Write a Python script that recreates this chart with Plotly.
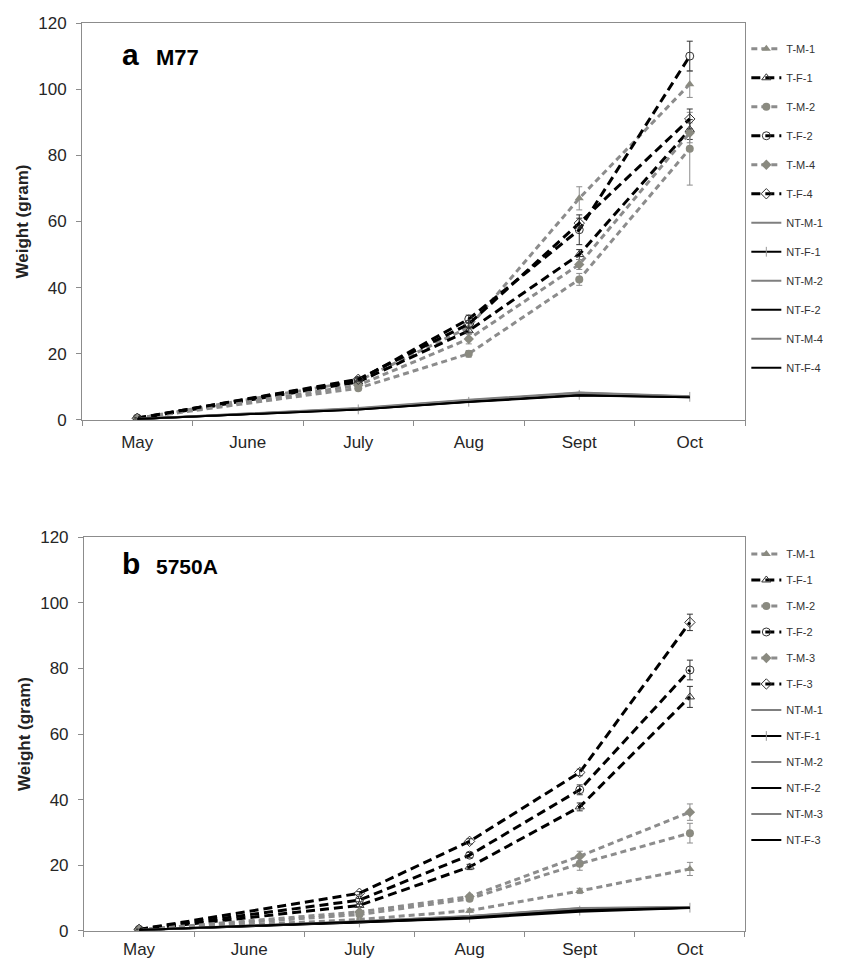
import plotly.graph_objects as go
from plotly.subplots import make_subplots

months = ["May", "June", "July", "Aug", "Sept", "Oct"]
sample_months = ["May", "July", "Aug", "Sept", "Oct"]

# Panel a: M77
a_names = ["T-M-1", "T-F-1", "T-M-2", "T-F-2", "T-M-4", "T-F-4",
           "NT-M-1", "NT-F-1", "NT-M-2", "NT-F-2", "NT-M-4", "NT-F-4"]
a_values = {
    "T-M-1": [0.5, 11.8, 28.0, 67.0, 101.5],
    "T-F-1": [0.4, 11.5, 27.0, 50.0, 87.8],
    "T-M-2": [0.5, 9.6, 20.0, 42.5, 82.0],
    "T-F-2": [0.6, 12.0, 30.5, 57.5, 110.0],
    "T-M-4": [0.5, 10.5, 24.5, 47.0, 86.8],
    "T-F-4": [0.5, 12.3, 29.0, 59.5, 91.0],
    "NT-M-1": [0.3, 3.4, 5.8, 8.2, 7.0],
    "NT-F-1": [0.3, 3.2, 5.5, 7.6, 7.0],
    "NT-M-2": [0.3, 3.5, 6.0, 8.0, 7.1],
    "NT-F-2": [0.3, 3.3, 5.6, 7.5, 6.9],
    "NT-M-4": [0.3, 3.6, 6.1, 8.3, 7.2],
    "NT-F-4": [0.3, 3.2, 5.4, 7.4, 6.9],
}
a_errors = {
    "T-M-1": [0.3, 0.8, 1.2, 3.5, 4.0],
    "T-F-1": [0.2, 0.6, 1.0, 1.5, 3.0],
    "T-M-2": [0.2, 0.6, 1.0, 1.8, 11.0],
    "T-F-2": [0.2, 0.6, 1.2, 4.5, 4.5],
    "T-M-4": [0.2, 0.6, 1.5, 1.5, 3.0],
    "T-F-4": [0.2, 0.6, 1.0, 1.5, 3.0],
}

# Panel b: 5750A
b_names = ["T-M-1", "T-F-1", "T-M-2", "T-F-2", "T-M-3", "T-F-3",
           "NT-M-1", "NT-F-1", "NT-M-2", "NT-F-2", "NT-M-3", "NT-F-3"]
b_values = {
    "T-M-1": [0.3, 3.5, 6.2, 12.2, 18.9],
    "T-F-1": [0.4, 7.8, 19.5, 37.8, 71.3],
    "T-M-2": [0.4, 5.0, 9.8, 20.5, 29.8],
    "T-F-2": [0.5, 9.4, 23.1, 43.0, 79.5],
    "T-M-3": [0.4, 5.8, 10.5, 22.8, 36.2],
    "T-F-3": [0.5, 11.5, 27.3, 48.3, 94.0],
    "NT-M-1": [0.3, 2.8, 4.4, 6.8, 7.2],
    "NT-F-1": [0.3, 2.6, 4.0, 6.2, 7.1],
    "NT-M-2": [0.3, 3.0, 4.6, 7.0, 7.3],
    "NT-F-2": [0.3, 2.5, 3.8, 5.9, 7.0],
    "NT-M-3": [0.3, 2.9, 4.5, 6.9, 7.2],
    "NT-F-3": [0.3, 2.7, 4.1, 6.3, 7.1],
}
b_errors = {
    "T-M-1": [0.1, 0.3, 0.5, 0.8, 2.0],
    "T-F-1": [0.1, 0.4, 0.8, 1.2, 3.2],
    "T-M-2": [0.1, 0.3, 0.6, 2.0, 3.0],
    "T-F-2": [0.1, 0.5, 0.8, 1.5, 3.0],
    "T-M-3": [0.1, 0.3, 0.6, 1.5, 2.5],
    "T-F-3": [0.1, 0.5, 0.8, 1.0, 2.5],
}

GREY = "#8c8c8c"
BLACK = "#000000"
MARK_GREY = "#8a8a80"
FONT = "Liberation Sans, Arial"


def style_for(name):
    idx = name[-1]
    if name.startswith("T-M"):
        sym = {"1": "triangle-up", "2": "circle"}.get(idx, "diamond")
        return dict(line=dict(color=GREY, width=3, dash="6px,4px"),
                    marker=dict(symbol=sym, size=8, color=MARK_GREY,
                                line=dict(width=0)),
                    mode="lines+markers", ecolor=GREY)
    if name.startswith("T-F"):
        sym = {"1": "triangle-up-open", "2": "circle-open"}.get(idx, "diamond-open")
        return dict(line=dict(color=BLACK, width=3, dash="9px,5px"),
                    marker=dict(symbol=sym, size=8, color="#333333",
                                line=dict(width=1)),
                    mode="lines+markers", ecolor="#333333")
    if name.startswith("NT-M"):
        return dict(line=dict(color="#7f7f7f", width=2),
                    marker=None, mode="lines", ecolor=None)
    if name == "NT-F-1":
        return dict(line=dict(color=BLACK, width=2),
                    marker=dict(symbol="line-ns-open", size=7, color="#999999",
                                line=dict(width=1, color="#999999")),
                    mode="lines+markers", ecolor=None)
    return dict(line=dict(color=BLACK, width=2),
                marker=None, mode="lines", ecolor=None)


fig = make_subplots(rows=2, cols=1, vertical_spacing=0.05)


def add_panel(names, values, errors, row, legend_id):
    for i, n in enumerate(names):
        s = style_for(n)
        kw = dict(x=sample_months, y=values[n], name=n, mode=s["mode"],
                  line=s["line"], legend=legend_id,
                  legendgroup=f"{legend_id}-{i}")
        if s["marker"] is not None:
            kw["marker"] = s["marker"]
        if n in errors:
            kw["error_y"] = dict(type="data", array=errors[n], visible=True,
                                 color=s["ecolor"], thickness=1, width=3)
        fig.add_trace(go.Scatter(**kw), row=row, col=1)


add_panel(a_names, a_values, a_errors, 1, "legend")
add_panel(b_names, b_values, b_errors, 2, "legend2")

axis_common = dict(showline=True, linecolor="#8c8c8c", linewidth=1, mirror=True,
                   showgrid=False, zeroline=False, automargin=False,
                   tickfont=dict(family=FONT, size=17, color="#262626"))

for r, standoff in ((1, 7), (2, 3)):
    fig.update_xaxes(type="category", categoryorder="array", categoryarray=months,
                     range=[-0.5, 5.5], tickson="boundaries", ticks="outside",
                     ticklen=5, tickcolor="#8c8c8c", ticklabelstandoff=standoff,
                     row=r, col=1, **axis_common)
    fig.update_yaxes(range=[0, 120], dtick=20, ticks="outside", ticklen=5,
                     tickcolor="#8c8c8c", ticklabelstandoff=6,
                     title=dict(text="<b>Weight (gram)</b>", standoff=5,
                                font=dict(family=FONT, size=17, color="#222222")),
                     row=r, col=1, **axis_common)

fig.update_layout(yaxis=dict(domain=[0.5628, 1.0]), yaxis2=dict(domain=[0.0, 0.4339]),
                  xaxis=dict(domain=[0, 1]), xaxis2=dict(domain=[0.003, 1]))

legend_common = dict(font=dict(family=FONT, size=11, color="#333333"),
                     traceorder="grouped", bgcolor="rgba(0,0,0,0)",
                     xanchor="left", yanchor="top", itemwidth=30)

fig.update_layout(
    width=835, height=953,
    margin=dict(l=74, r=98, t=15, b=30, autoexpand=False),
    paper_bgcolor="white", plot_bgcolor="white",
    showlegend=True,
    legend=dict(x=1.002, y=0.9876, tracegroupgap=10, **legend_common),
    legend2=dict(x=1.002, y=0.4312, tracegroupgap=7, **legend_common),
    annotations=[
        dict(text="<b>a</b>", x=0.057, y=0.9653, xref="paper", yref="paper",
             showarrow=False, xanchor="left", yanchor="middle",
             font=dict(family=FONT, size=30, color="black")),
        dict(text="<b>M77</b>", x=0.1086, y=0.9622, xref="paper", yref="paper",
             showarrow=False, xanchor="left", yanchor="middle",
             font=dict(family=FONT, size=22, color="black")),
        dict(text="<b>b</b>", x=0.057, y=0.4047, xref="paper", yref="paper",
             showarrow=False, xanchor="left", yanchor="middle",
             font=dict(family=FONT, size=30, color="black")),
        dict(text="<b>5750A</b>", x=0.1086, y=0.4017, xref="paper", yref="paper",
             showarrow=False, xanchor="left", yanchor="middle",
             font=dict(family=FONT, size=21, color="black")),
    ],
)

fig.write_html("out.html")
